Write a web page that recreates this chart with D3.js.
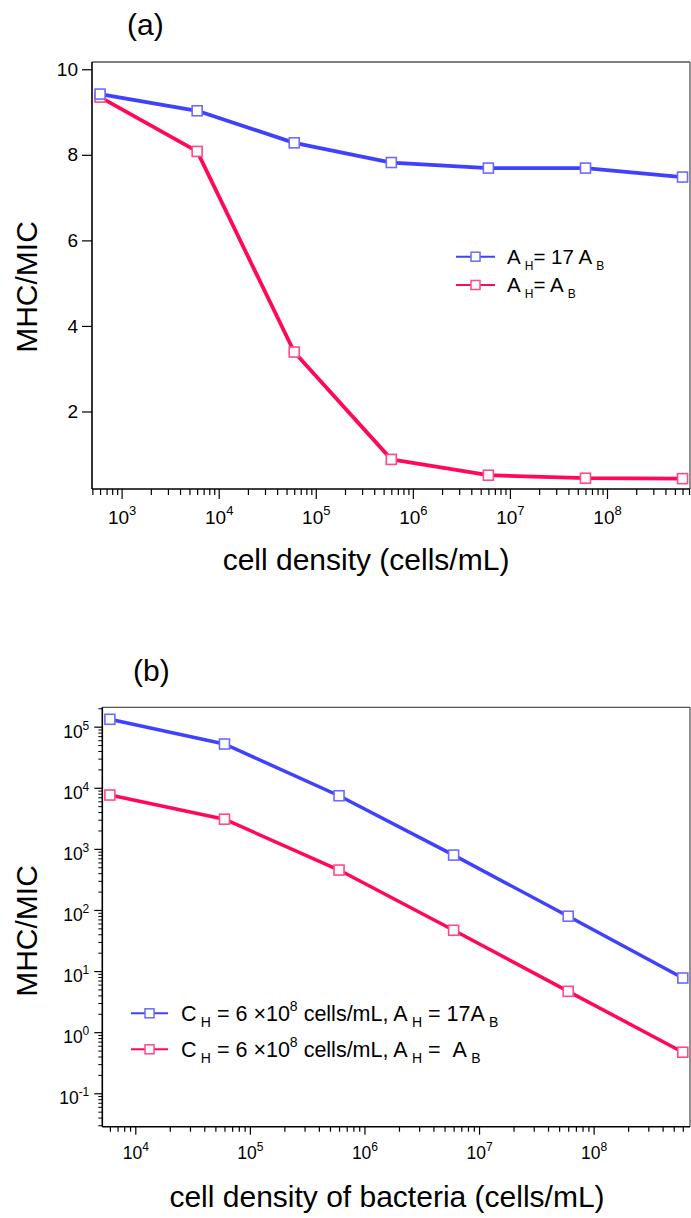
<!DOCTYPE html>
<html><head><meta charset="utf-8">
<script src="https://cdn.jsdelivr.net/npm/d3@7"></script>
<style>body{margin:0;background:#fff} svg{display:block} text{font-family:"Liberation Sans",Arial,sans-serif;fill:#000}</style>
</head><body><svg id="c" width="691" height="1218"></svg>
<script>
// ---- data: panel (a)
const densityA = [6e2, 6e3, 6e4, 6e5, 6e6, 6e7, 6e8];
const ratioA17 = [9.42, 9.03, 8.28, 7.82, 7.69, 7.69, 7.48];
const ratioAeq = [9.35, 8.08, 3.39, 0.88, 0.51, 0.44, 0.43];
const xTicksA = [1e3, 1e4, 1e5, 1e6, 1e7, 1e8];
const yTicksA = [2, 4, 6, 8, 10];
// ---- data: panel (b)
const densityB = [6e3, 6e4, 6e5, 6e6, 6e7, 6e8];
const ratioB17 = [1.32e5, 5.2e4, 7.4e3, 790, 79, 7.7];
const ratioBeq = [7.6e3, 3.06e3, 450, 46.5, 4.66, 0.47];
const xTicksB = [1e4, 1e5, 1e6, 1e7, 1e8];
const yTicksB = [1e-1, 1, 10, 100, 1e3, 1e4, 1e5];
// ---- labels
const legendA = [
  [["A"], ["H", "sub"], ["= 17 A"], ["B", "sub"]],
  [["A"], ["H", "sub"], ["= A"], ["B", "sub"]]
];
const legendB = [
  [["C"], ["H", "sub"], [" = 6 \u00d710"], ["8", "sup"], [" cells/mL, A"], ["H", "sub"], [" = 17A"], ["B", "sub"]],
  [["C"], ["H", "sub"], [" = 6 \u00d710"], ["8", "sup"], [" cells/mL, A"], ["H", "sub"], [" =\u00a0\u00a0A"], ["B", "sub"]]
];
const BLUE = "#4040ff", RED = "#ff0858";
const BLUE_M = "#6b6bff", RED_M = "#ff4a86";

const svg = d3.select("#c");

function richText(sel, segs, size, subSize) {
  let shift = 0;
  segs.forEach(([t, kind]) => {
    let target = 0;
    if (kind === "sub") target = size * 0.3;
    if (kind === "sup") target = -size * 0.42;
    const ts = sel.append("tspan").text(t)
      .attr("font-size", kind ? subSize : size)
      .attr("dy", target - shift);
    if (kind === "sub") ts.attr("dx", size * 0.2);
    shift = target;
  });
}

function powLabel(g, exp, size, supSize, anchor) {
  const t = g.append("text").attr("text-anchor", anchor).attr("font-size", size);
  t.append("tspan").text("10");
  t.append("tspan").text(exp).attr("font-size", supSize).attr("dy", -size * 0.45);
  return t;
}

function drawSeries(g, x, y, xs, ys, col, mcol, lw) {
  const line = d3.line().x((d, i) => x(xs[i])).y(d => y(d));
  g.append("path").datum(ys).attr("d", line).attr("fill", "none")
    .attr("stroke", col).attr("stroke-width", lw).attr("stroke-linejoin", "round");
  g.selectAll(null).data(ys).join("rect")
    .attr("x", (d, i) => x(xs[i]) - 5).attr("y", d => y(d) - 5)
    .attr("width", 10).attr("height", 10)
    .attr("fill", "#fff").attr("stroke", mcol).attr("stroke-width", 1.6);
}

function legendItem(g, lx1, lx2, ly, col, mcol) {
  g.append("line").attr("x1", lx1).attr("x2", lx2).attr("y1", ly).attr("y2", ly)
    .attr("stroke", col).attr("stroke-width", 2);
  const cx = (lx1 + lx2) / 2;
  g.append("rect").attr("x", cx - 4.5).attr("y", ly - 4.5).attr("width", 9).attr("height", 9)
    .attr("fill", "#fff").attr("stroke", mcol).attr("stroke-width", 1.5);
}

function frame(L, T, R, B) {
  svg.append("line").attr("x1", L).attr("x2", R).attr("y1", T).attr("y2", T).attr("stroke", "#555").attr("stroke-width", 1.3);
  svg.append("line").attr("x1", R).attr("x2", R).attr("y1", T).attr("y2", B).attr("stroke", "#555").attr("stroke-width", 1.3);
}

// ================= Panel (a) =================
{
  const L = 92, R = 690, T = 62, B = 489;
  const x = d3.scaleLog().domain([Math.pow(10, 2.695), Math.pow(10, 8.855)]).range([L, R]);
  const y = d3.scaleLinear().domain([0.195, 10.17]).range([488.7, T]);
  frame(L, T, R, B);
  const minors = x.ticks().filter(v => !xTicksA.some(m => Math.abs(m - v) / m < 1e-6));
  svg.append("g").attr("transform", `translate(0,${B})`)
    .call(d3.axisBottom(x).tickValues(minors).tickSize(6).tickSizeOuter(0).tickFormat(""))
    .call(g => g.select(".domain").remove())
    .call(g => g.selectAll("line").attr("stroke-width", 1.2));
  const xa = svg.append("g").attr("transform", `translate(0,${B})`)
    .call(d3.axisBottom(x).tickValues(xTicksA).tickSize(10).tickSizeOuter(0).tickFormat(""));
  xa.select(".domain").attr("stroke-width", 1.6).attr("d", `M${L},0H${R}`);
  xa.selectAll(".tick line").attr("stroke-width", 1.2);
  xa.selectAll(".tick").each(function (d) {
    powLabel(d3.select(this), Math.round(Math.log10(d)), 19, 13, "middle").attr("y", 35);
  });
  const ya = svg.append("g").attr("transform", `translate(${L},0)`)
    .call(d3.axisLeft(y).tickValues(yTicksA).tickSize(10).tickSizeOuter(0).tickPadding(4));
  ya.select(".domain").attr("stroke-width", 1.6).attr("d", `M0,${B}V${T}`);
  ya.selectAll(".tick line").attr("stroke-width", 1.2);
  ya.selectAll(".tick text").attr("font-size", 19).attr("font-family", "Liberation Sans, Arial, sans-serif");

  const g = svg.append("g");
  drawSeries(g, x, y, densityA, ratioAeq, RED, RED_M, 3.8);
  drawSeries(g, x, y, densityA, ratioA17, BLUE, BLUE_M, 3.8);

  legendItem(svg, 456, 495, 256.7, BLUE, BLUE_M);
  legendItem(svg, 456, 495, 285, RED, RED_M);
  richText(svg.append("text").attr("x", 507).attr("y", 263.5), legendA[0], 20.5, 12);
  richText(svg.append("text").attr("x", 507).attr("y", 292), legendA[1], 20.5, 12);

  svg.append("text").attr("x", 127).attr("y", 35).attr("font-size", 30)
    .attr("font-family", "Liberation Serif, serif").text("(a)");
  svg.append("text").attr("transform", "translate(37,287) rotate(-90)").attr("text-anchor", "middle")
    .attr("font-size", 30).text("MHC/MIC");
  svg.append("text").attr("x", 366).attr("y", 570).attr("text-anchor", "middle")
    .attr("font-size", 30).text("cell density (cells/mL)");
}

// ================= Panel (b) =================
{
  const L = 102.3, R = 690, T = 707.3, B = 1126.7;
  const x = d3.scaleLog().domain([Math.pow(10, 3.712), Math.pow(10, 8.841)]).range([L, R]);
  const y = d3.scaleLog().domain([Math.pow(10, -1.547), Math.pow(10, 5.317)]).range([B, T]);
  frame(L, T, R, B);
  const xMin = x.ticks().filter(v => !xTicksB.some(m => Math.abs(m - v) / m < 1e-6));
  svg.append("g").attr("transform", `translate(0,${B})`)
    .call(d3.axisBottom(x).tickValues(xMin).tickSize(5).tickSizeOuter(0).tickFormat(""))
    .call(g => g.select(".domain").remove())
    .call(g => g.selectAll("line").attr("stroke-width", 1.2));
  const xa = svg.append("g").attr("transform", `translate(0,${B})`)
    .call(d3.axisBottom(x).tickValues(xTicksB).tickSize(8).tickSizeOuter(0).tickFormat(""));
  xa.select(".domain").attr("stroke-width", 1.6).attr("d", `M${L},0H${R}`);
  xa.selectAll(".tick line").attr("stroke-width", 1.2);
  xa.selectAll(".tick").each(function (d) {
    powLabel(d3.select(this), Math.round(Math.log10(d)), 17.5, 12, "middle").attr("y", 32);
  });
  const yMin = y.ticks().filter(v => !yTicksB.some(m => Math.abs(m - v) / m < 1e-6));
  svg.append("g").attr("transform", `translate(${L},0)`)
    .call(d3.axisLeft(y).tickValues(yMin).tickSize(4).tickSizeOuter(0).tickFormat(""))
    .call(g => g.select(".domain").remove())
    .call(g => g.selectAll("line").attr("stroke-width", 1));
  const ya = svg.append("g").attr("transform", `translate(${L},0)`)
    .call(d3.axisLeft(y).tickValues(yTicksB).tickSize(8).tickSizeOuter(0).tickFormat(""));
  ya.select(".domain").attr("stroke-width", 1.6).attr("d", `M0,${B}V${T}`);
  ya.selectAll(".tick line").attr("stroke-width", 1.2);
  ya.selectAll(".tick").each(function (d) {
    powLabel(d3.select(this), Math.round(Math.log10(d)), 17.5, 12, "end").attr("x", -13).attr("y", 10.5);
  });

  const g = svg.append("g");
  drawSeries(g, x, y, densityB, ratioBeq, RED, RED_M, 3.5);
  drawSeries(g, x, y, densityB, ratioB17, BLUE, BLUE_M, 3.5);

  legendItem(svg, 131, 168, 1013.3, BLUE, BLUE_M);
  legendItem(svg, 131, 168, 1049.3, RED, RED_M);
  richText(svg.append("text").attr("x", 181).attr("y", 1020.5), legendB[0], 21.5, 14);
  richText(svg.append("text").attr("x", 181).attr("y", 1056.5), legendB[1], 21.5, 14);

  svg.append("text").attr("x", 133).attr("y", 681).attr("font-size", 30)
    .attr("font-family", "Liberation Serif, serif").text("(b)");
  svg.append("text").attr("transform", "translate(37,931) rotate(-90)").attr("text-anchor", "middle")
    .attr("font-size", 30).text("MHC/MIC");
  svg.append("text").attr("x", 387).attr("y", 1207).attr("text-anchor", "middle")
    .attr("font-size", 30).text("cell density of bacteria (cells/mL)");
}
</script></body></html>
